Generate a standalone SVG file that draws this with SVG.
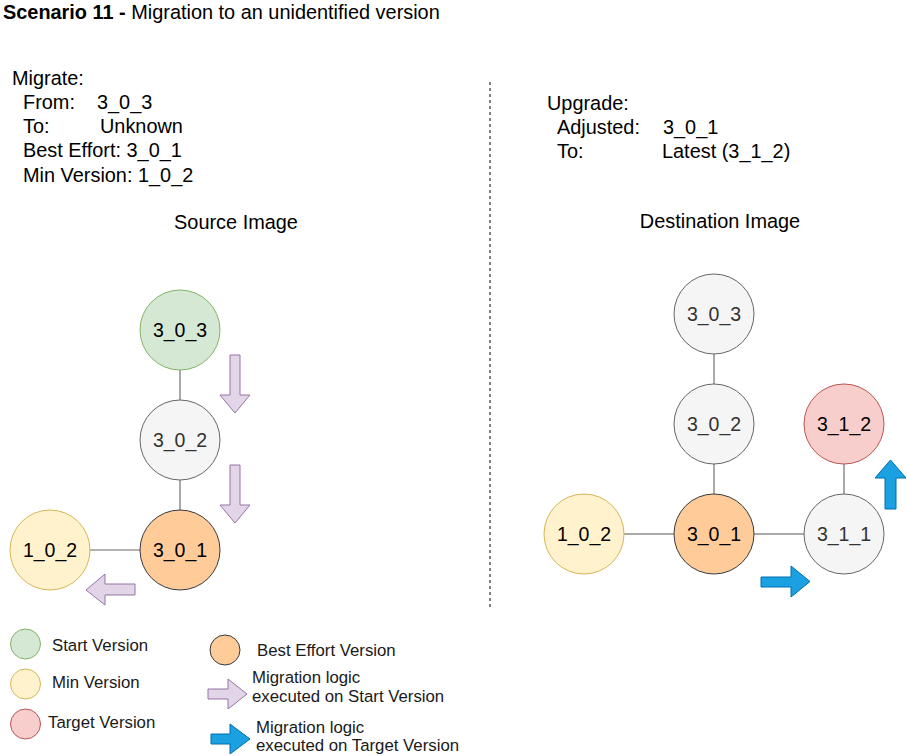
<svg xmlns="http://www.w3.org/2000/svg" width="907" height="756" viewBox="0 0 907 756">
<style>
text{font-family:"Liberation Sans",Arial,sans-serif;fill:#000}
.t{font-size:19.9px}
.lg{font-size:16.8px;fill:#1a1a1a}
.nl{font-size:19.5px;text-anchor:middle}
.g{fill:#f5f5f5;stroke:#666666;stroke-width:1}
.gt{fill:#333333}
.grn{fill:#d5e8d4;stroke:#82b366;stroke-width:1}
.org{fill:#ffcc99;stroke:#36393d;stroke-width:1}
.yel{fill:#fff2cc;stroke:#d6b656;stroke-width:1}
.red{fill:#f8cecc;stroke:#b85450;stroke-width:1}
.pur{fill:#e1d5e7;stroke:#9673a6;stroke-width:1}
.blu{fill:#1ba1e2;stroke:#006eaf;stroke-width:1}
.ln{stroke:#555555;stroke-width:1;fill:none}
</style>
<rect width="907" height="756" fill="#ffffff"/>
<text class="t" x="3" y="19"><tspan font-weight="bold">Scenario 11 - </tspan>Migration to an unidentified version</text>
<g id="source-info">
<text class="t" x="12" y="85">Migrate:</text>
<text class="t" x="23" y="109">From:</text><text class="t" x="97" y="109">3_0_3</text>
<text class="t" x="23" y="133">To:</text><text class="t" x="100" y="133">Unknown</text>
<text class="t" x="23" y="157">Best Effort: 3_0_1</text>
<text class="t" x="23" y="182">Min Version: 1_0_2</text>
<text class="t" x="236" y="229" text-anchor="middle">Source Image</text>
</g>
<g id="dest-info">
<text class="t" x="547" y="110">Upgrade:</text>
<text class="t" x="557" y="134">Adjusted:</text><text class="t" x="663" y="134">3_0_1</text>
<text class="t" x="557" y="158">To:</text><text class="t" x="662" y="158">Latest (3_1_2)</text>
<text class="t" x="720" y="228" text-anchor="middle">Destination Image</text>
</g>
<line id="divider" x1="490" y1="82" x2="490" y2="610" stroke="#000" stroke-width="1" stroke-dasharray="3,3"/>
<g id="connectors">
<line class="ln" x1="180" y1="370" x2="180" y2="400"/>
<line class="ln" x1="180" y1="480" x2="180" y2="510"/>
<line x1="90" y1="550" x2="140" y2="550" stroke="#999999" stroke-width="1.5"/>
<line class="ln" x1="714" y1="354" x2="714" y2="384"/>
<line class="ln" x1="714" y1="464" x2="714" y2="494"/>
<line class="ln" x1="624" y1="534" x2="674" y2="534"/>
<line class="ln" x1="754" y1="534" x2="804" y2="534"/>
<line class="ln" x1="844" y1="464" x2="844" y2="494"/>
</g>
<g id="src-3_0_3"><circle class="grn" cx="180" cy="330" r="40"/><text class="nl" x="180" y="337">3_0_3</text></g>
<g id="src-3_0_2"><circle class="g" cx="180" cy="440" r="40"/><text class="nl gt" x="180" y="447">3_0_2</text></g>
<g id="src-3_0_1"><circle class="org" cx="180" cy="550" r="40"/><text class="nl" x="180" y="557">3_0_1</text></g>
<g id="src-1_0_2"><circle class="yel" cx="50" cy="550" r="40"/><text class="nl" x="50" y="557">1_0_2</text></g>
<g id="dst-3_0_3"><circle class="g" cx="714" cy="314" r="40"/><text class="nl gt" x="714" y="321">3_0_3</text></g>
<g id="dst-3_0_2"><circle class="g" cx="714" cy="424" r="40"/><text class="nl gt" x="714" y="431">3_0_2</text></g>
<g id="dst-3_0_1"><circle class="org" cx="714" cy="534" r="40"/><text class="nl" x="714" y="541">3_0_1</text></g>
<g id="dst-1_0_2"><circle class="yel" cx="584" cy="534" r="40"/><text class="nl" x="584" y="541">1_0_2</text></g>
<g id="dst-3_1_1"><circle class="g" cx="844" cy="534" r="40"/><text class="nl gt" x="844" y="541">3_1_1</text></g>
<g id="dst-3_1_2"><circle class="red" cx="844" cy="424" r="40"/><text class="nl" x="844" y="431">3_1_2</text></g>
<g id="flow-arrows">
<polygon class="pur" points="230,355 240,355 240,395 250,395 235,413 220,395 230,395"/>
<polygon class="pur" points="230,465 240,465 240,505 250,505 235,523 220,505 230,505"/>
<polygon class="pur" points="135,584 135,595 105,595 105,605 86,590 105,574 105,584"/>
<polygon class="blu" points="761,577 791,577 791,566 810,581.5 791,597 791,587 761,587"/>
<polygon class="blu" points="885,509 885,478 875,478 890.5,460 906,478 896,478 896,509"/>
</g>
<g id="legend">
<circle class="grn" cx="25.5" cy="644" r="15"/>
<text class="lg" x="52" y="651">Start Version</text>
<circle class="yel" cx="25.5" cy="684" r="15"/>
<text class="lg" x="52" y="688">Min Version</text>
<circle class="red" cx="25.5" cy="724" r="15"/>
<text class="lg" x="48" y="728">Target Version</text>
<circle class="org" cx="225" cy="650" r="15"/>
<text class="lg" x="257" y="656">Best Effort Version</text>
<polygon class="pur" points="208,689 228,689 228,679 247,694 228,709 228,699 208,699"/>
<text class="lg" x="252" y="683">Migration logic</text>
<text class="lg" x="252" y="702">executed on Start Version</text>
<polygon class="blu" points="211,734 230,734 230,724 250,739 230,754 230,744 211,744"/>
<text class="lg" x="256" y="733">Migration logic</text>
<text class="lg" x="256" y="751">executed on Target Version</text>
</g>
</svg>
